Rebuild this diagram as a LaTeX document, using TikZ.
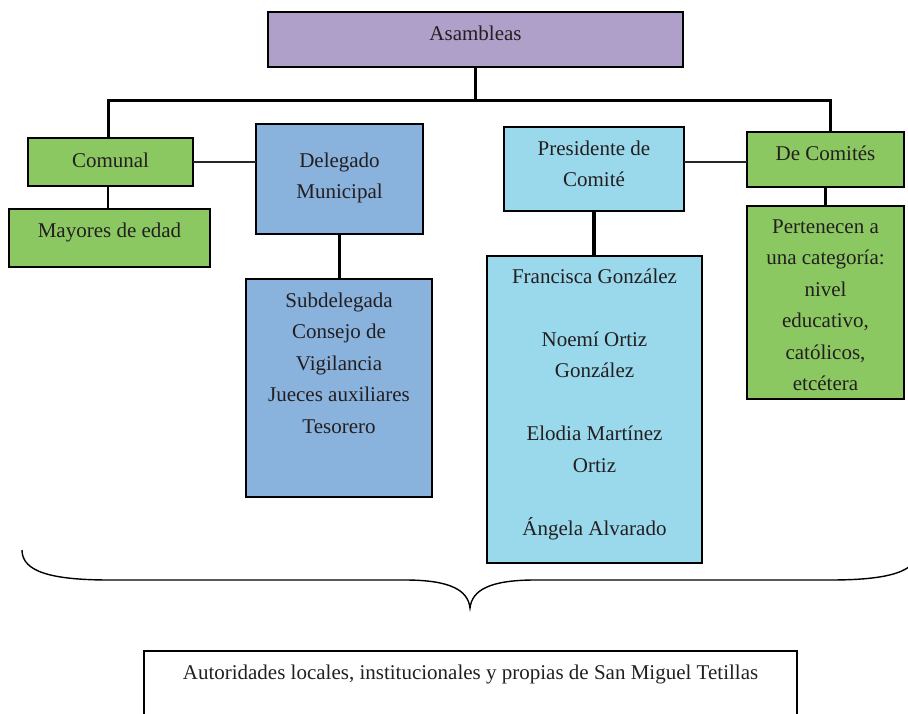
\documentclass[tikz,border=0pt]{standalone}
\usepackage{fontspec}
\setmainfont{Liberation Serif}
\definecolor{purp}{HTML}{AFA0C9}
\definecolor{grn}{HTML}{8CC862}
\definecolor{blu}{HTML}{89B2DD}
\definecolor{lblu}{HTML}{9AD9EC}
\definecolor{tc}{HTML}{231F20}
\begin{document}
\begin{tikzpicture}[x=1pt,y=-1pt,
  mkbox/.style={draw=black, line width=2pt, inner sep=0pt, outer sep=0pt, anchor=north west},
  txt/.style={font=\fontsize{21}{31.5}\selectfont, align=center, inner sep=0pt, anchor=base, text=tc},
  bus/.style={line width=3pt},
  link/.style={line width=2.5pt},
  side/.style={line width=1.6pt, draw=black!85},
  drop/.style={line width=3.5pt}]
\useasboundingbox (0,0) rectangle (908,713);
\clip (0,0) rectangle (908,713);

% boxes
\node[mkbox, fill=purp, minimum width=415pt, minimum height=55pt] (asam) at (268,12) {};
\node[mkbox, fill=grn, minimum width=165pt, minimum height=48pt] (comunal) at (28,138) {};
\node[mkbox, fill=grn, minimum width=201pt, minimum height=58pt] (mayores) at (9,209) {};
\node[mkbox, fill=blu, minimum width=167pt, minimum height=110pt] (delegado) at (256,124) {};
\node[mkbox, fill=blu, minimum width=186pt, minimum height=218pt] (sub) at (246,279) {};
\node[mkbox, fill=lblu, minimum width=180pt, minimum height=84pt] (pres) at (504,127) {};
\node[mkbox, fill=lblu, minimum width=215pt, minimum height=307pt] (fran) at (487,256) {};
\node[mkbox, fill=grn, minimum width=157pt, minimum height=55pt] (decom) at (747,132) {};
\node[mkbox, fill=grn, minimum width=157pt, minimum height=193pt] (pert) at (747,206) {};

% texts (anchor base = baseline of the last line)
\node[txt] (tasam) at (475.5,40) {Asambleas};
\node[txt] (tcom) at (110.5,167) {Comunal};
\node[txt] (tmay) at (109.5,237) {Mayores de edad};
\node[txt] (tdel) at (339.5,198.5) {Delegado\\Municipal};
\node[txt] (tsub) at (339,433) {Subdelegada\\Consejo de\\Vigilancia\\Jueces auxiliares\\Tesorero};
\node[txt] (tpres) at (594,186.5) {Presidente de\\Comité};
\node[txt] (tfran) at (594.5,535) {Francisca González\\[31.5pt]Noemí Ortiz\\González\\[31.5pt]Elodia Martínez\\Ortiz\\[31.5pt]Ángela Alvarado};
\node[txt] (tdecom) at (825.5,160) {De Comités};
\node[txt] (tpert) at (825.5,390.5) {Pertenecen a\\una categoría:\\nivel\\educativo,\\católicos,\\etcétera};
\node[txt] (taut) at (470.5,679) {Autoridades locales, institucionales y propias de San Miguel Tetillas};

% connectors
\coordinate (busL) at (108,100);
\coordinate (busR) at (830,100);
\draw[link] (asam.south) -- (asam.south |- busL);
\draw[bus] (comunal.north -| busL) -- (busL) -- (busR) -- (decom.north -| busR);
\draw[side] (comunal.east) -- (comunal.east -| delegado.west);
\draw[side] (pres.east |- comunal.east) -- (decom.west |- comunal.east);
\draw[link] (comunal.south -| busL) -- (mayores.north -| busL);
\draw[drop] (delegado.south) -- (delegado.south |- sub.north);
\draw[drop] (pres.south) -- (pres.south |- fran.north);
\draw[link] (decom.south) -- (pert.north);

% brace
\coordinate (bl) at (22,550);
\coordinate (btip) at (470,608);
\coordinate (br) at (918,550);
\draw[line width=1.4pt] (bl) .. controls (22,572) and (52,580) .. (110,580) -- (405,580)
  .. controls (450,580) and (468,590) .. (btip)
  .. controls (472,590) and (490,580) .. (535,580) -- (830,580)
  .. controls (888,580) and (918,572) .. (br);

% bottom box (open at the bottom)
\coordinate (ab1) at (144,720);
\coordinate (ab2) at (144,651);
\coordinate (ab3) at (797,651);
\coordinate (ab4) at (797,720);
\draw[line width=2pt] (ab1) -- (ab2) -- (ab3) -- (ab4);
\end{tikzpicture}
\end{document}
